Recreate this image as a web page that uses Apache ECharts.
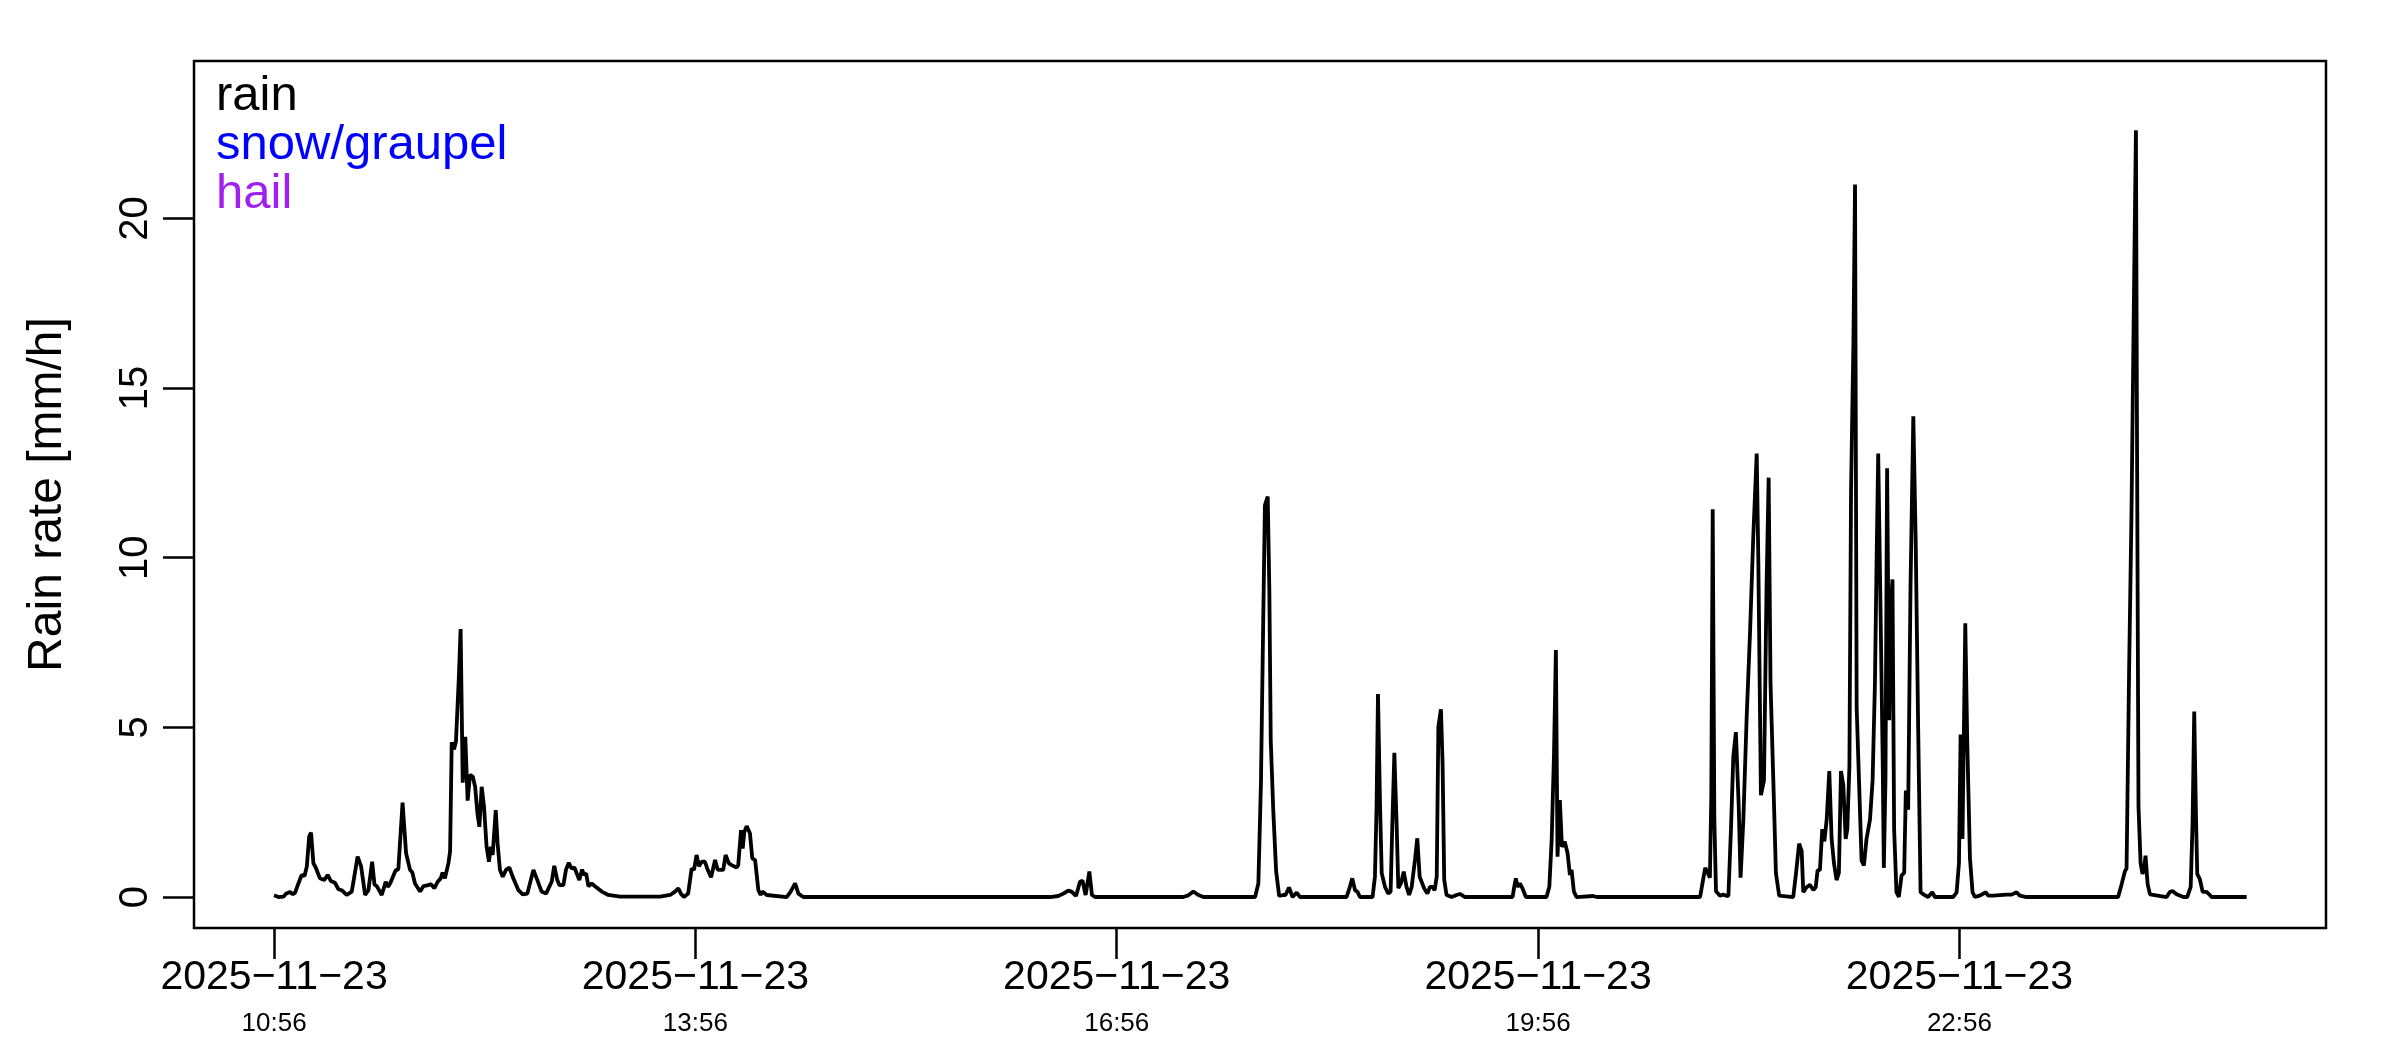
<!DOCTYPE html>
<html>
<head>
<meta charset="utf-8">
<script src="https://cdn.jsdelivr.net/npm/echarts@6/dist/echarts.min.js"></script>
<style>
html,body{margin:0;padding:0;background:#fff;}
#chart{width:2400px;height:1050px;}
</style>
</head>
<body>
<div id="chart"></div>
<script>
// Start time of the record (minute offsets below are counted from here)
const startTime = '2025-11-23T10:56:00';

// Minutes after 10:56 at which rain rate was read
const minutes = [
  0,1.9,4,5.1,6.8,8,9,10.4,11.8,13,14,15,15.8,16.8,17.8,19.6,21.4,22.9,24.3,26,27.5,28.9,31,33.2,35.7,37.2,38.9,40.3,41.9,42.9,43.9,46,47.7,48.6,49.6,51.9,53.1,54.9,56.4,58.1,59.1,60.2,62.4,63.8,65.9,67,68.5,69.9,71.2,72,73,74.5,75.2,75.9,76.9,77.7,78.9,79.7,80.6,81.7,82.7,83.7,84.9,85.9,86.9,87.7,88.7,89.7,90.8,91.8,92.6,93.4,94.7,95.5,96.5,97.7,99.1,100.5,102.2,104.4,106.2,108.2,
  110.8,112.2,114.3,116.2,118.6,119.7,121,121.9,123.6,124.7,125.9,127.1,128.3,129,130.4,131.6,132.4,133.3,134.3,135.7,137.1,140,142.8,147.8,164.9,169.2,171.3,172.7,173.8,175.1,176.9,178.4,179.4,180.5,181.5,182.7,184.1,185.2,186.7,188.4,189.5,190.5,191.9,192.9,194.3,195.5,197.6,198.3,199.5,200.2,200.9,201.9,203.3,204.3,205.5,206.9,207.9,208.6,210.5,219,220.7,222.6,224,226.1,
  331.5,335,337.2,339.3,340.7,342.6,344.3,345.4,346.7,348.3,349.4,350.7,388.4,390.6,392.7,394.9,397,
  419.1,420.5,421.6,422.6,423.3,424.5,425.2,425.8,426.9,428.1,429.4,431.1,432.1,433.6,435.1,436.9,438.3,
  458.2,459.6,460.6,461.8,462.8,463.9,469.3,470.3,471,471.6,472.5,473.2,474.6,476,477,477.7,478.6,479.6,480.3,481.4,482.6,483.8,484.9,486,487.4,488.4,489.4,491.3,492.7,493.8,494.9,495.8,496.7,497.4,498.5,499.2,499.9,500.9,503.1,505.2,506.6,508.8,
  529.1,529.8,530.5,531.2,532.2,533.3,534.8,543.6,544.8,545.8,546.8,547.6,548.3,549.3,550.2,551.4,552.6,553.6,554.3,555.3,556.4,563.5,565,
  609.2,610.3,611.4,612.5,613.4,614,614.6,615.3,616,617.7,619.1,620.3,621.3,622.4,623.4,624.5,625.7,626.5,627.7,629.1,630.5,631.9,633.4,634.1,635.2,636.5,637.6,638.5,639.3,640.5,641.6,643,
  649,650.2,651.5,652.6,653.3,654.7,656.1,657.6,658.6,659.4,660.4,661.4,662.3,663.3,664.4,665.4,666.4,667.5,668.5,669.4,670.4,671.4,672.1,673,673.7,674.7,675.4,676.1,677.1,678.2,679.2,680.3,681.8,682.9,683.9,684.6,685.3,686.3,687.2,687.7,688.4,689.1,690,690.6,691.4,692.1,693.1,694.1,695.3,696.4,697.1,698.1,699.1,700.3,701.3,702.4,703.4,704.8,706.6,708.4,709.5,
  717.3,718.8,719.8,720.5,721.3,722.5,723.3,724.5,725.6,726.6,728.7,731.3,732.3,734.4,740.1,742.3,744.4,745.8,748.7,
  787.8,789.3,790.7,791.4,792.5,793.5,794.5,795.4,795.9,796.5,797.4,798.2,798.9,799.5,800.4,801.4,808.5,809.9,811,812.8,815.6,817.3,818.8,819.6,820.3,821.1,821.6,822.7,823.9,825.6,826.7,827.7,842.7
];

// Rain rate [mm/h] read at each of those minutes
const rainRate = [
  0.05,0,0.01,0.1,0.15,0.08,0.13,0.4,0.65,0.62,0.9,1.78,1.9,1.0,0.87,0.55,0.5,0.65,0.47,0.42,0.23,0.2,0.06,0.16,1.19,0.9,0.06,0.2,1.04,0.37,0.32,0.06,0.45,0.3,0.4,0.78,0.82,2.78,1.29,0.8,0.72,0.4,0.16,0.32,0.35,0.38,0.26,0.45,0.55,0.72,0.55,1.0,1.34,4.56,4.35,4.58,6.4,7.9,3.37,4.72,2.84,3.6,3.55,3.25,2.46,2.07,3.25,2.66,1.48,1.04,1.48,1.24,2.56,1.58,0.8,0.6,0.8,0.87,0.55,0.2,0.08,0.1,
  0.8,0.55,0.16,0.1,0.45,0.92,0.5,0.35,0.35,0.8,1.01,0.84,0.87,0.75,0.5,0.81,0.65,0.7,0.32,0.4,0.32,0.16,0.06,0.01,0.01,0.06,0.16,0.26,0.1,0,0.1,0.84,0.8,1.24,0.91,1.04,1.04,0.81,0.58,1.09,0.81,0.8,0.8,1.24,0.99,0.94,0.87,0.94,1.97,1.43,1.92,2.09,1.88,1.14,1.09,0.2,0.06,0.16,0.06,0,0.16,0.4,0.1,0,
  0,0.03,0.1,0.19,0.16,0.03,0.45,0.48,0.06,0.75,0.06,0,0,0.05,0.16,0.06,0,
  0,0.4,3.35,8.26,11.55,11.8,9.0,4.6,2.5,0.75,0.03,0.06,0.06,0.28,0,0.13,0,
  0,0.3,0.55,0.2,0.16,0,0,0.6,2.66,5.98,2.66,0.7,0.3,0.1,0.16,2.07,4.25,2.07,0.26,0.4,0.75,0.3,0.06,0.3,1.09,1.73,0.6,0.26,0.1,0.3,0.3,0.2,0.6,5.02,5.53,3.94,0.5,0.06,0,0.06,0.09,0,
  0,0.3,0.55,0.3,0.4,0.26,0,0,0.3,1.68,4.23,7.28,1.19,2.86,1.48,1.63,1.29,0.65,0.8,0.16,0,0.03,0,
  0,0.43,0.86,0.71,0.57,3.0,11.43,2.29,0.17,0.04,0.07,0.04,0.03,2.0,4.14,4.86,2.71,0.57,2.29,5.29,7.71,10.57,13.07,9.86,3.0,3.43,9.14,12.36,6.29,3.43,0.71,0.04,
  0,0.71,1.57,1.36,0.14,0.29,0.36,0.21,0.29,0.79,0.79,2.0,1.64,2.29,3.71,1.71,1.0,0.5,0.71,3.71,3.29,1.71,2.0,3.86,12.0,16.29,21.0,5.57,3.43,1.07,0.93,1.71,2.29,3.43,6.29,9.86,13.07,8.43,4.14,0.86,3.43,12.64,5.21,8.43,9.36,2.0,0.14,0,0.64,0.71,3.14,2.57,9.14,14.17,10.57,4.86,0.14,0.07,0,0.14,0,
  0,0.14,1.0,4.79,1.71,8.07,4.71,1.14,0.14,0,0.04,0.14,0.04,0.04,0.07,0.07,0.14,0.04,0,
  0,0.38,0.76,0.84,6.76,11.3,17.4,22.6,12.84,2.66,0.99,0.68,0.84,1.22,0.38,0.08,0,0.15,0.18,0.08,0,0,0.3,2.2,5.47,2.2,0.68,0.53,0.15,0.15,0.08,0,0
];

// Precipitation types named in the legend, with their R colours
const precipTypes = ['rain', 'snow/graupel', 'hail'];
const precipColors = ['#000000', '#0000ff', '#a020f0'];

// Axis ticks
const xTickMinutes = [0, 180, 360, 540, 720];
const yTicks = [0, 5, 10, 15, 20];

const t0 = new Date(startTime).getTime();
function pad(n){ return (n < 10 ? '0' : '') + n; }
function fmtTick(m){
  const d = new Date(t0 + m * 60000);
  // R draws the date hyphens as minus signs
  const day = d.getFullYear() + '\u2212' + pad(d.getMonth() + 1) + '\u2212' + pad(d.getDate());
  const hm = pad(d.getHours()) + ':' + pad(d.getMinutes());
  return '{d|' + day + '}\n{t|' + hm + '}';
}

const rainData = minutes.map((m, i) => [m, rainRate[i]]);
const FONT = '"Liberation Sans", Arial, Helvetica, sans-serif';

const chart = echarts.init(document.getElementById('chart'), null, {renderer: 'canvas'});
chart.setOption({
  animation: false,
  backgroundColor: '#ffffff',
  textStyle: {fontFamily: FONT},
  grid: {
    left: 194, right: 74, top: 61, bottom: 122,
    show: true, borderColor: '#000', borderWidth: 2.5, backgroundColor: 'transparent'
  },
  legend: {
    orient: 'vertical',
    left: 206, top: 67,
    itemGap: 0,
    itemWidth: 0, itemHeight: 0,
    icon: 'rect',
    selectedMode: false,
    textStyle: {fontSize: 49, fontFamily: FONT, lineHeight: 48, padding: 0},
    data: precipTypes.map((n, i) => ({name: n, textStyle: {color: precipColors[i]}}))
  },
  xAxis: {
    type: 'value',
    min: -34.2, max: 876.6,
    axisLine: {show: false, onZero: false},
    splitLine: {show: false},
    axisTick: {show: true, length: 31, lineStyle: {color: '#000', width: 2.5}, customValues: xTickMinutes},
    axisLabel: {
      customValues: xTickMinutes,
      margin: 22,
      color: '#000',
      formatter: fmtTick,
      rich: {
        d: {fontSize: 41, lineHeight: 56, fontFamily: FONT, color: '#000'},
        t: {fontSize: 26, lineHeight: 35, fontFamily: FONT, color: '#000'}
      }
    }
  },
  yAxis: {
    type: 'value',
    min: -0.913, max: 24.64,
    name: 'Rain rate [mm/h]',
    nameLocation: 'middle',
    nameGap: 122,
    nameTextStyle: {fontSize: 48, color: '#000', fontFamily: FONT},
    axisLine: {show: false, onZero: false},
    splitLine: {show: false},
    axisTick: {show: true, length: 31, lineStyle: {color: '#000', width: 2.5}, customValues: yTicks},
    axisLabel: {
      customValues: yTicks,
      rotate: 90,
      margin: 38,
      fontSize: 40,
      color: '#000',
      fontFamily: FONT
    }
  },
  series: [
    {name: precipTypes[0], type: 'line', data: rainData, showSymbol: false, symbol: 'none',
     lineStyle: {color: precipColors[0], width: 3.8}, itemStyle: {color: precipColors[0]}, z: 3},
    {name: precipTypes[1], type: 'line', data: [], showSymbol: false,
     lineStyle: {color: precipColors[1], width: 3.8}, itemStyle: {color: precipColors[1]}},
    {name: precipTypes[2], type: 'line', data: [], showSymbol: false,
     lineStyle: {color: precipColors[2], width: 3.8}, itemStyle: {color: precipColors[2]}}
  ]
});
</script>
</body>
</html>
